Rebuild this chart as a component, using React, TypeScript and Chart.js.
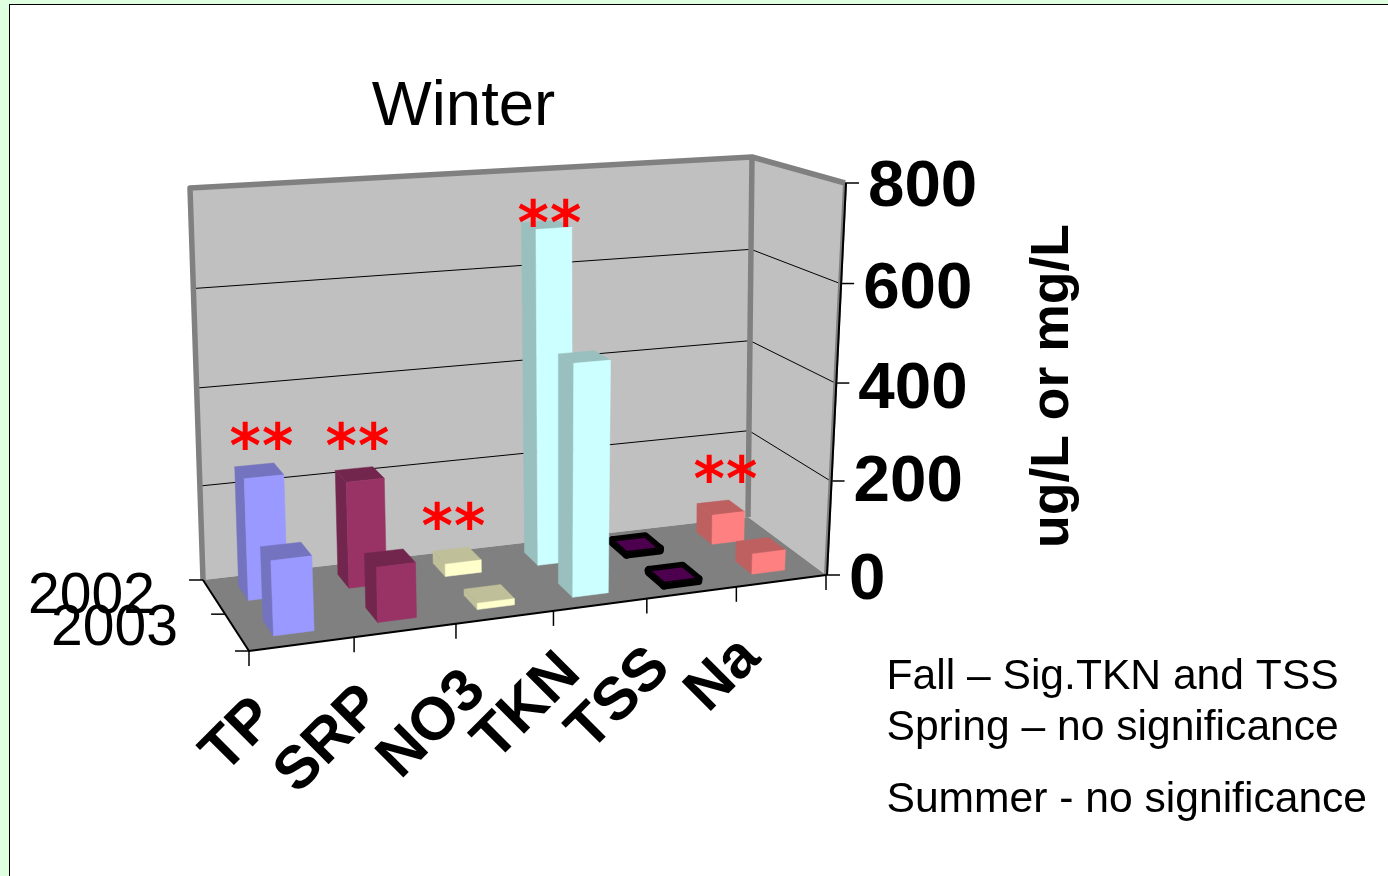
import React, { useEffect, useRef } from "react";
import { Chart, registerables } from "chart.js";

Chart.register(...registerables);

const categories = ["TP", "SRP", "NO3", "TKN", "TSS", "Na"];
const years = ["2002", "2003"];
const values2002 = [250, 222, 28, 700, 5, 67];
const values2003 = [150, 113, 14, 472, 5, 45];
const categoryColors = ["#9999FF", "#993366", "#FFFFCC", "#CCFFFF", "#660066", "#FF8080"];
const outlineWidths = [0, 0, 0, 0, 8, 0];
const significant = ["TP", "SRP", "NO3", "TKN", "Na"];
const notes = ["Fall \u2013 Sig.TKN and TSS", "Spring \u2013 no significance", "Summer - no significance"];

const SANS = '"Liberation Sans", Arial, sans-serif';
const BAR_DEPTH = 0.21;

type Pt = [number, number];

// Projective map from the unit square to a quadrilateral (far-left, far-right, near-right, near-left).
function quadMap([p0, p1, p2, p3]: Pt[]) {
  const dx1 = p1[0] - p2[0], dx2 = p3[0] - p2[0], sx = p0[0] - p1[0] + p2[0] - p3[0];
  const dy1 = p1[1] - p2[1], dy2 = p3[1] - p2[1], sy = p0[1] - p1[1] + p2[1] - p3[1];
  const den = dx1 * dy2 - dx2 * dy1;
  const g = (sx * dy2 - dx2 * sy) / den;
  const h = (dx1 * sy - sx * dy1) / den;
  const a = p1[0] - p0[0] + g * p1[0], b = p3[0] - p0[0] + h * p3[0];
  const d = p1[1] - p0[1] + g * p1[1], e = p3[1] - p0[1] + h * p3[1];
  return (u: number, w: number): Pt => {
    const q = g * u + h * w + 1;
    return [(a * u + b * w + p0[0]) / q, (d * u + e * w + p0[1]) / q];
  };
}

const floorMap = quadMap([[203, 580], [748, 517], [826, 575], [249, 651]]);
const ceilingMap = quadMap([[190, 188], [752, 157], [845, 183], [232, 221]]);

// u runs along the categories, w from back to front, v from floor to ceiling.
function project(u: number, w: number, v: number): Pt {
  const lo = floorMap(u, w);
  const hi = ceilingMap(u, w);
  const t = Math.pow(v, 1.03);
  return [lo[0] + (hi[0] - lo[0]) * t, lo[1] + (hi[1] - lo[1]) * t];
}

function shade(hex: string, k: number) {
  const n = parseInt(hex.slice(1), 16);
  const c = [(n >> 16) & 255, (n >> 8) & 255, n & 255].map((x) => Math.round(x * k));
  return `rgb(${c[0]},${c[1]},${c[2]})`;
}

function trace(ctx: CanvasRenderingContext2D, pts: Pt[]) {
  ctx.beginPath();
  pts.forEach((p, i) => (i ? ctx.lineTo(p[0], p[1]) : ctx.moveTo(p[0], p[1])));
  ctx.closePath();
}

function poly(ctx: CanvasRenderingContext2D, pts: Pt[], fill?: string, stroke?: string, lw = 1) {
  trace(ctx, pts);
  if (fill) {
    ctx.fillStyle = fill;
    ctx.fill();
  }
  if (stroke) {
    ctx.strokeStyle = stroke;
    ctx.lineWidth = lw;
    ctx.lineJoin = "round";
    ctx.stroke();
  }
}

function line(ctx: CanvasRenderingContext2D, pts: Pt[], color: string, lw: number) {
  ctx.beginPath();
  pts.forEach((p, i) => (i ? ctx.lineTo(p[0], p[1]) : ctx.moveTo(p[0], p[1])));
  ctx.strokeStyle = color;
  ctx.lineWidth = lw;
  ctx.lineJoin = "round";
  ctx.lineCap = "butt";
  ctx.stroke();
}

function label(
  ctx: CanvasRenderingContext2D, text: string, x: number, y: number, font: string,
  align: CanvasTextAlign = "left", angle = 0, color = "#000", spacing = "0px"
) {
  ctx.save();
  ctx.translate(x, y);
  ctx.rotate(angle);
  ctx.font = font;
  (ctx as any).letterSpacing = spacing;
  ctx.fillStyle = color;
  ctx.textAlign = align;
  ctx.textBaseline = "alphabetic";
  ctx.fillText(text, 0, 0);
  ctx.restore();
}

// Boxes crowd slightly towards the far end of the floor, more so at the back.
const drift = (u: number, w: number) => u - (0.003 + 0.007 * u) * (1.3 - 0.8 * w);

// Draws the room and the boxes on a projected view of the chart's own scales.
const perspectiveBars = {
  id: "perspectiveBars",
  beforeDatasetsDraw(chart: any) {
    const ctx: CanvasRenderingContext2D = chart.ctx;
    const { x: xs, y: ys, z: zs } = chart.scales;
    const toU = (px: number) => (px - xs.left) / xs.width;
    const toV = (py: number) => (ys.bottom - py) / ys.height;
    const toW = (py: number) => (py - zs.top) / zs.height;

    poly(ctx, [project(0, 0, 0), project(1, 0, 0), project(1, 0, 1), project(0, 0, 1)], "#C0C0C0");
    poly(ctx, [project(1, 0, 0), project(1, 1, 0), project(1, 1, 1), project(1, 0, 1)], "#C0C0C0");
    poly(ctx, [project(0, 0, 0), project(1, 0, 0), project(1, 1, 0), project(0, 1, 0)], "#808080");

    // Gridlines and value ticks
    const tickNudge: Record<number, number> = { 0: 24, 200: 20, 400: 25, 600: 24, 800: 23 };
    ys.ticks.forEach((t: any) => {
      const v = toV(ys.getPixelForValue(t.value));
      if (v > 0 && v < 1) {
        line(ctx, [project(0, 0, v), project(1, 0, v), project(1, 1, v)], "#000", 1);
      }
      const e = project(1, 1, v);
      line(ctx, [e, [e[0] + 14, e[1]]], "#000", 1.5);
      label(ctx, String(t.value), e[0] + 23, e[1] + tickNudge[t.value], `bold 65.5px ${SANS}`);
    });

    // Heavy wall outline
    const rim = "#808080";
    line(ctx, [project(0, 0, 0), project(0, 0, 1), project(1, 0, 1), project(1, 1, 1)], rim, 5.5);
    line(ctx, [project(1, 0, 0), project(1, 0, 1)], rim, 5.5);
    line(ctx, [project(1, 1, 0), project(1, 1, 1)], rim, 4);
    const frontTop = project(1, 1, 1);
    const frontBottom = project(1, 1, 0);
    line(ctx, [[frontBottom[0] + 1, frontBottom[1]], [frontTop[0] + 1, frontTop[1]]], "#000", 2);
    line(ctx, [project(0, 0, 0), project(0, 1, 0), project(1, 1, 0)], "#000", 2);

    // Category boundary ticks along the front edge
    for (let i = 0; i <= categories.length; i++) {
      const raw = i === categories.length ? 1 : toU(xs.getPixelForValue(i) - xs.width / categories.length / 2);
      const e = project(i === 0 || i === categories.length ? raw : drift(raw, 0.7), 1, 0);
      line(ctx, [e, [e[0], e[1] + 15]], "#000", 1.5);
    }
    // Year boundary ticks along the left edge
    for (let i = 0; i <= years.length; i++) {
      const e = project(0, i / years.length, 0);
      line(ctx, [e, [e[0] - 14, e[1]]], "#000", 1.5);
    }
    const yearDrop = [16, 13];
    years.forEach((yr, i) => {
      const e = project(0, toW(zs.getPixelForValue(i)), 0);
      label(ctx, yr, e[0] - 59, e[1] + yearDrop[i], `57px ${SANS}`, "right");
    });

    // Boxes, back row first
    chart.data.datasets.forEach((_: any, di: number) => {
      const center = toW(zs.getPixelForValue(di));
      const w0 = center - BAR_DEPTH / 2;
      const w1 = center + BAR_DEPTH / 2;
      chart.getDatasetMeta(di).data.forEach((el: any) => {
        const u0 = drift(toU(el.x - el.width / 2), center);
        const u1 = drift(toU(el.x + el.width / 2), center);
        const v = toV(el.y);
        const base: string = el.options.backgroundColor;
        const side = shade(base, 0.75);
        const outline: number = el.options.borderWidth;
        const left = [project(u0, w0, 0), project(u0, w1, 0), project(u0, w1, v), project(u0, w0, v)];
        const top = [project(u0, w0, v), project(u1, w0, v), project(u1, w1, v), project(u0, w1, v)];
        const front = [project(u0, w1, 0), project(u1, w1, 0), project(u1, w1, v), project(u0, w1, v)];
        if (outline > 0) {
          // Outlined box: heavy border around all faces, top face kept open
          [left, top, front].forEach((f) => poly(ctx, f, "#000", "#000", outline));
          poly(ctx, top, side);
          ctx.save();
          trace(ctx, top);
          ctx.clip();
          poly(ctx, top, undefined, "#000", 3);
          ctx.restore();
        } else {
          poly(ctx, left, side, side, 0.5);
          poly(ctx, top, side, side, 0.5);
          poly(ctx, front, base, base, 0.5);
        }
      });
    });

    // Category names, rotated
    const nudges: Pt[] = [[-25, 77], [-23, 78], [-20, 76], [-21, 71], [-23, 78], [-21, 79]];
    categories.forEach((name, i) => {
      const e = project(toU(xs.getPixelForValue(i)), 1, 0);
      label(ctx, name, e[0] + nudges[i][0], e[1] + nudges[i][1], `bold 60px ${SANS}`, "right", -Math.PI / 4);
    });

    label(ctx, "ug/L or mg/L", 1068, 386, `bold 53.5px ${SANS}`, "center", -Math.PI / 2);
    label(ctx, "Winter", 463.5, 125, `63.5px ${SANS}`, "center");

    // Significance marks sit on the slide above the bars
    const markSpots: Record<string, Pt> = { TP: [262, 467], SRP: [358, 467], NO3: [454, 547], TKN: [550, 244], Na: [726, 500] };
    significant.forEach((name) => {
      label(ctx, "**", markSpots[name][0], markSpots[name][1], 'bold 60px "DejaVu Sans", sans-serif', "center", 0, "#FF0000", "1px");
    });

    label(ctx, notes[0], 886.5, 689, `42.6px ${SANS}`);
    label(ctx, notes[1], 886.5, 740, `42.6px ${SANS}`);
    label(ctx, notes[2], 886.5, 812, `42.6px ${SANS}`);
    return false;
  },
};

export default function App() {
  const ref = useRef<HTMLCanvasElement>(null);
  useEffect(() => {
    const chart = new Chart(ref.current!, {
      type: "bar",
      data: {
        labels: categories,
        datasets: [
          { label: years[0], data: values2002, backgroundColor: categoryColors, borderWidth: outlineWidths, borderColor: "#000", grouped: false, categoryPercentage: 1, barPercentage: 0.385 },
          { label: years[1], data: values2003, backgroundColor: categoryColors, borderWidth: outlineWidths, borderColor: "#000", grouped: false, categoryPercentage: 1, barPercentage: 0.385 },
        ],
      } as any,
      options: {
        responsive: false,
        animation: false,
        layout: { padding: 0 },
        plugins: { legend: { display: false }, tooltip: { enabled: false } },
        scales: {
          x: { type: "category", display: false },
          y: { type: "linear", display: false, min: 0, max: 800, ticks: { stepSize: 200 } },
          z: { type: "category", axis: "y", display: false, labels: years, offset: true },
        },
      } as any,
      plugins: [perspectiveBars],
    });
    return () => chart.destroy();
  }, []);

  return (
    <div style={{ position: "fixed", inset: 0, background: "#E0FFE0", overflow: "hidden" }}>
      <div style={{ position: "absolute", left: 9, top: 4, right: -4, bottom: -4, background: "#fff", borderLeft: "1.5px solid #000", borderTop: "1.5px solid #000" }} />
      <canvas ref={ref} width={1388} height={876} style={{ position: "absolute", left: 0, top: 0, display: "block" }} />
    </div>
  );
}
